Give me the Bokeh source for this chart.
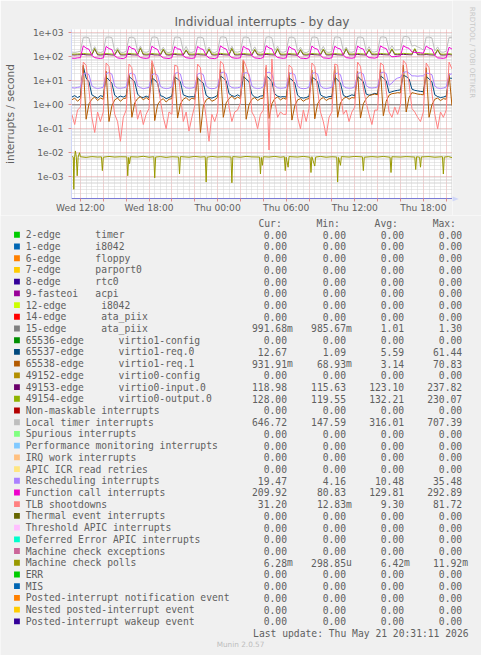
import numpy as np
from bokeh.plotting import figure
from bokeh.layouts import column, row
from bokeh.models import Range1d, FixedTicker, CustomJSTickFormatter
from bokeh.core.properties import value
from bokeh.embed import file_html
from bokeh.resources import INLINE

TITLE = "Individual interrupts - by day"
Y_LABEL = "interrupts / second"
LAST_UPDATE = "Last update: Thu May 21 20:31:11 2026"
FOOTER = "Munin 2.0.57"
SIDE_TEXT = "RRDTOOL / TOBI OETIKER"

x_tick_hours = [12, 18, 24, 30, 36, 42]
x_tick_labels = ["Wed 12:00", "Wed 18:00", "Thu 00:00", "Thu 06:00", "Thu 12:00", "Thu 18:00"]
y_ticks = [1e-3, 1e-2, 1e-1, 1e0, 1e1, 1e2, 1e3]
y_tick_labels = ["1e-03", "1e-02", "1e-01", "1e+00", "1e+01", "1e+02", "1e+03"]

# sample times in hours since Wed 00:00, every 15 minutes, Wed 11:15 .. Thu 20:30
t15 = 11.25 + 0.25 * np.arange(134)

# Local timer interrupts
loc = [158, 152, 160,
       170, 640, 665, 610, 172, 265, 158, 150,
       165, 655, 670, 630, 168, 240, 155, 152,
       168, 630, 660, 600, 170, 280, 160, 154,
       166, 645, 675, 620, 175, 250, 158, 150,
       170, 650, 668, 615, 170, 270, 155, 153,
       168, 640, 660, 605, 168, 255, 158, 150,
       172, 660, 680, 625, 175, 275, 160, 156,
       170, 650, 670, 610, 172, 260, 158, 152,
       168, 655, 690, 620, 178, 280, 160, 155,
       170, 640, 665, 600, 170, 250, 157, 150,
       168, 650, 670, 615, 172, 270, 160, 152,
       170, 660, 675, 620, 175, 255, 158, 155,
       170, 650, 672, 610, 172, 265, 160, 158,
       175, 660, 680, 625, 185, 290, 190, 195,
       200, 680, 707, 640, 280, 300, 260, 230,
       190, 655, 670, 610, 175, 260, 160, 155,
       170, 640, 647]

# Function call interrupts
cal = [88, 86, 90,
       92, 285, 230, 205, 115, 92, 88, 85,
       90, 270, 220, 200, 110, 90, 86, 84,
       95, 280, 225, 210, 120, 93, 88, 86,
       90, 275, 230, 200, 112, 90, 87, 85,
       92, 265, 215, 205, 110, 91, 88, 86,
       90, 270, 220, 200, 115, 89, 86, 84,
       93, 285, 235, 210, 118, 92, 88, 87,
       91, 275, 225, 205, 112, 90, 87, 85,
       94, 290, 235, 215, 120, 93, 89, 86,
       90, 270, 220, 200, 110, 88, 86, 84,
       92, 280, 225, 205, 115, 90, 88, 86,
       91, 275, 230, 210, 118, 92, 89, 87,
       92, 280, 230, 210, 115, 92, 90, 88,
       95, 285, 240, 220, 125, 100, 102, 105,
       110, 292, 245, 225, 160, 152, 150, 148,
       140, 280, 230, 210, 115, 90, 88, 86,
       92, 250, 210]

# 49153-edge virtio0-input.0
vin0 = [120, 119, 121,
        122, 125, 121, 120, 119, 215, 121, 118,
        121, 124, 122, 119, 118, 190, 120, 119,
        120, 126, 121, 120, 118, 237, 122, 119,
        121, 124, 120, 119, 117, 200, 121, 118,
        122, 125, 121, 120, 119, 185, 120, 119,
        120, 123, 121, 119, 118, 205, 121, 118,
        121, 126, 122, 120, 119, 220, 120, 119,
        122, 124, 121, 119, 118, 195, 121, 118,
        121, 125, 122, 120, 119, 210, 120, 119,
        120, 124, 121, 119, 117, 190, 121, 118,
        121, 125, 122, 120, 118, 200, 120, 119,
        122, 124, 121, 119, 118, 215, 121, 120,
        121, 125, 122, 120, 119, 195, 122, 121,
        122, 126, 123, 121, 120, 205, 123, 122,
        123, 127, 124, 122, 121, 210, 122, 121,
        121, 124, 121, 119, 118, 190, 120, 118,
        120, 123, 119]

# 49154-edge virtio0-output.0
vout0 = [130, 129, 131,
         132, 138, 133, 131, 129, 225, 131, 128,
         131, 136, 132, 130, 128, 200, 130, 129,
         130, 139, 133, 131, 129, 230, 132, 129,
         131, 137, 132, 130, 128, 210, 131, 128,
         132, 136, 131, 130, 129, 195, 130, 129,
         130, 135, 132, 130, 128, 215, 131, 128,
         131, 139, 133, 131, 129, 225, 130, 129,
         132, 137, 132, 130, 128, 205, 131, 128,
         131, 138, 133, 131, 129, 220, 130, 129,
         130, 136, 132, 130, 128, 200, 131, 128,
         131, 137, 133, 131, 129, 210, 130, 129,
         132, 136, 132, 130, 128, 220, 131, 130,
         131, 137, 133, 131, 129, 205, 132, 131,
         132, 138, 134, 132, 130, 215, 133, 132,
         133, 139, 135, 133, 131, 220, 132, 131,
         131, 136, 132, 130, 128, 200, 130, 128,
         130, 134, 128]

# Rescheduling interrupts
res = [5.2, 5.0, 5.3,
       5.6, 19, 21, 18, 6.2, 5.1, 4.8, 5.0,
       5.4, 20, 22, 19, 6.0, 5.0, 4.9, 5.1,
       5.5, 19, 21, 18, 6.1, 5.2, 4.7, 5.0,
       5.3, 18, 20, 17, 5.8, 5.0, 4.8, 4.9,
       5.6, 20, 22, 19, 6.3, 5.1, 4.9, 5.0,
       5.4, 19, 21, 18, 6.0, 4.9, 4.7, 4.8,
       5.7, 21, 23, 20, 6.4, 5.2, 5.0, 5.1,
       5.5, 20, 22, 19, 6.1, 5.0, 4.8, 4.9,
       5.6, 21, 23, 19, 6.2, 5.1, 4.9, 5.0,
       5.3, 19, 21, 18, 5.9, 4.9, 4.7, 4.8,
       5.5, 20, 22, 19, 6.1, 5.0, 4.8, 5.0,
       5.4, 19, 21, 18, 6.0, 5.1, 4.9, 5.0,
       5.6, 20, 22, 19, 6.3, 5.2, 5.0, 5.2,
       5.5, 21, 23, 20, 6.5, 8.0, 11, 13,
       14, 22, 24, 21, 16, 16, 15.5, 16,
       16, 21, 20, 18, 6.0, 5.0, 4.8, 5.0,
       5.5, 18, 19.5]

# 65537-edge virtio1-req.0
req0 = [2.1, 2.4, 2.0,
        2.3, 40, 13, 9, 2.6, 2.2, 1.9, 2.4,
        2.2, 14, 11, 8, 2.5, 2.0, 2.3, 2.1,
        2.4, 15, 12, 9, 2.8, 2.1, 2.0, 2.3,
        2.0, 13, 11, 8, 2.4, 2.2, 1.8, 2.0,
        2.3, 14, 12, 9, 2.6, 2.3, 2.1, 2.2,
        2.1, 13, 10, 8, 2.5, 2.0, 1.9, 2.1,
        2.5, 16, 13, 10, 2.9, 2.4, 2.2, 2.6,
        2.2, 15, 12, 9, 2.7, 2.1, 2.0, 2.3,
        2.4, 16, 13, 9, 2.8, 2.3, 2.1, 2.2,
        2.1, 13, 11, 8, 2.5, 2.0, 1.9, 2.0,
        2.3, 14, 12, 9, 2.6, 2.2, 2.0, 2.2,
        2.2, 14, 11, 8, 2.5, 2.1, 2.3, 2.6,
        2.4, 15, 12, 9, 2.8, 2.5, 2.7, 3.0,
        2.8, 16, 13, 10, 3.2, 3.5, 3.8, 4.0,
        4.2, 17, 15, 12, 4.5, 4.0, 3.8, 3.6,
        3.5, 15, 12, 9, 2.6, 2.2, 2.0, 2.1,
        2.3, 13, 12.67]

# 65538-edge virtio1-req.1
req1 = [1.6, 1.9, 1.4,
        1.8, 45, 0.25, 1.1, 1.7, 2.1, 1.5, 1.9,
        1.7, 25, 0.2, 0.9, 1.6, 1.9, 1.4, 1.8,
        1.9, 18, 0.3, 1.2, 1.8, 2.2, 1.6, 2.0,
        1.6, 55, 0.22, 1.0, 1.5, 1.8, 1.3, 1.7,
        1.8, 20, 0.28, 1.1, 1.7, 2.0, 1.5, 1.9,
        1.7, 15, 0.07, 0.9, 1.6, 1.9, 1.4, 1.6,
        2.0, 30, 0.3, 1.2, 1.8, 2.3, 1.7, 2.1,
        1.8, 70.83, 0.25, 1.0, 1.7, 2.0, 1.5, 1.8,
        1.9, 35, 0.27, 1.1, 1.8, 2.1, 1.6, 1.9,
        1.7, 22, 0.23, 0.9, 1.6, 1.8, 1.4, 1.7,
        1.8, 28, 0.26, 1.1, 1.7, 2.0, 1.5, 1.8,
        1.8, 40, 0.3, 1.2, 1.8, 2.1, 1.7, 2.0,
        1.9, 25, 0.28, 1.1, 1.8, 2.4, 2.6, 2.8,
        2.6, 30, 0.35, 1.4, 2.5, 2.9, 3.0, 3.2,
        3.1, 45, 0.5, 2.0, 3.2, 3.0, 2.8, 2.7,
        2.6, 35, 0.3, 1.0, 1.7, 1.9, 1.5, 1.8,
        1.7, 20, 0.93]

# TLB shootdowns
tlb = [0.4, 0.15, 0.6,
       0.8, 60, 45, 4, 0.3, 0.07, 0.5, 0.2,
       0.5, 55, 40, 3, 0.4, 0.2, 0.03, 0.3,
       0.6, 50, 35, 2, 0.25, 0.6, 0.15, 0.4,
       0.7, 70, 30, 8, 1.5, 0.3, 0.1, 0.5,
       0.4, 45, 40, 3, 0.2, 0.5, 0.08, 0.3,
       0.9, 50, 35, 2, 0.3, 0.03, 0.4, 0.2,
       0.5, 65, 50, 6, 0.8, 0.2, 0.5, 0.6,
       1.2, 75, 40, 15, 0.5, 0.3, 0.1, 0.4,
       0.6, 45, 0.013, 81.72, 1.5, 0.3, 0.5, 0.4,
       0.4, 45, 35, 3, 0.3, 0.1, 0.6, 0.2,
       0.7, 55, 40, 4, 0.5, 0.2, 0.05, 0.3,
       0.5, 50, 45, 3, 0.4, 0.6, 0.2, 0.5,
       0.8, 60, 40, 5, 1.2, 0.4, 0.15, 0.6,
       0.6, 55, 45, 4, 0.5, 0.3, 0.8, 0.4,
       1.0, 70, 50, 8, 0.7, 0.5, 0.3, 0.2,
       0.5, 55, 35, 3, 0.4, 0.1, 0.5, 0.3,
       0.6, 60, 31.2]

# 15-edge ata_piix
t_ata = [11.25, 14.0, 17.0, 20.0, 23.0, 26.0, 29.0, 32.0, 35.0, 38.0, 41.0, 44.5]
ata = [1.0, 1.01, 0.99, 1.02, 1.0, 1.03, 0.99, 1.0, 1.02, 1.01, 1.0, 0.99]

# Machine check polls
t_mcp = [11.25, 11.38, 11.42, 11.48, 11.56, 11.64, 11.72, 11.80, 11.92, 12.0, 12.5, 13.0, 13.5,
         13.84, 13.92, 14.0, 14.5, 15.0, 15.5, 16.06, 16.14, 16.22, 16.3, 16.38, 17.0, 17.5,
         18.0, 18.42, 18.5, 18.58, 19.0, 19.5, 20.0, 20.59, 20.67, 20.75, 21.5, 22.0, 22.5,
         22.92, 23.0, 23.08, 23.5, 24.0, 24.5, 25.17, 25.25, 25.33, 26.0, 26.5, 27.0, 27.67,
         27.75, 27.83, 27.92, 28.0, 28.5, 29.0, 29.5, 29.84, 29.92, 30.0, 30.17, 30.25, 31.0,
         31.5, 32.09, 32.17, 32.25, 32.5, 32.58, 33.0, 33.5, 34.0, 34.42, 34.5, 34.58, 34.75,
         34.83, 35.5, 36.0, 36.67, 36.75, 36.83, 37.5, 38.0, 38.5, 39.09, 39.17, 39.25, 40.0,
         40.5, 41.25, 41.33, 41.41, 41.67, 41.75, 41.83, 42.5, 43.0, 43.67, 43.75, 43.83,
         44.2, 44.5]
mcp = [7.0e-3, 6.5e-3, 3.0e-4, 6.0e-3, 1.19e-2, 6.8e-3, 1.1e-3, 6.6e-3, 1.0e-2, 6.8e-3, 6.4e-3, 6.9e-3, 6.6e-3,
       6.7e-3, 1.8e-3, 6.5e-3, 7.0e-3, 6.6e-3, 6.8e-3, 6.7e-3, 1.1e-3, 6.4e-3, 3.5e-3, 6.8e-3, 6.6e-3, 7.1e-3,
       6.5e-3, 6.8e-3, 9.0e-4, 6.6e-3, 6.9e-3, 6.4e-3, 6.8e-3, 6.6e-3, 1.3e-3, 6.9e-3, 6.5e-3, 7.0e-3, 6.6e-3,
       6.8e-3, 6.0e-4, 6.5e-3, 7.0e-3, 6.6e-3, 6.8e-3, 6.6e-3, 5.6e-4, 6.9e-3, 6.5e-3, 7.0e-3, 6.7e-3, 6.6e-3,
       1.3e-3, 6.4e-3, 3.0e-3, 6.8e-3, 6.6e-3, 7.0e-3, 6.5e-3, 6.8e-3, 1.8e-3, 6.6e-3, 2.5e-3, 6.9e-3, 6.6e-3,
       7.0e-3, 6.5e-3, 1.5e-3, 6.8e-3, 2.8e-3, 6.6e-3, 7.0e-3, 6.5e-3, 6.8e-3, 6.6e-3, 6.0e-4, 6.4e-3, 3.0e-3,
       6.9e-3, 6.6e-3, 7.0e-3, 6.7e-3, 1.8e-3, 6.5e-3, 6.9e-3, 6.6e-3, 7.0e-3, 6.5e-3, 1.5e-3, 6.8e-3, 6.6e-3,
       6.9e-3, 6.6e-3, 2.0e-3, 6.8e-3, 6.5e-3, 2.5e-3, 6.7e-3, 6.9e-3, 6.5e-3, 6.8e-3, 1.3e-3, 6.6e-3,
       6.9e-3, 6.28e-3]

# Legend
legend_names = ["2-edge", "1-edge", "6-edge", "7-edge", "8-edge", "9-fasteoi", "12-edge", "14-edge",
                "15-edge", "65536-edge", "65537-edge", "65538-edge", "49152-edge", "49153-edge",
                "49154-edge", "Non-maskable interrupts", "Local timer interrupts", "Spurious interrupts",
                "Performance monitoring interrupts", "IRQ work interrupts", "APIC ICR read retries",
                "Rescheduling interrupts", "Function call interrupts", "TLB shootdowns",
                "Thermal event interrupts", "Threshold APIC interrupts", "Deferred Error APIC interrupts",
                "Machine check exceptions", "Machine check polls", "ERR", "MIS",
                "Posted-interrupt notification event", "Nested posted-interrupt event",
                "Posted-interrupt wakeup event"]
legend_devices = ["timer", "i8042", "floppy", "parport0", "rtc0", "acpi", "i8042", "ata_piix", "ata_piix",
                  "virtio1-config", "virtio1-req.0", "virtio1-req.1", "virtio0-config",
                  "virtio0-input.0", "virtio0-output.0"]
legend_colors = ["#00cc00", "#0066b3", "#ff8000", "#ffcc00", "#330099", "#990099", "#ccff00", "#ff0000",
                 "#808080", "#008f00", "#00487d", "#b35a00", "#b38f00", "#6b006b", "#8fb300", "#b30000",
                 "#bebebe", "#80ff80", "#80c9ff", "#ffc080", "#ffe680", "#aa80ff", "#ee00cc", "#ff8080",
                 "#666600", "#ffbfff", "#00ffcc", "#cc6699", "#999900", "#00cc00", "#0066b3", "#ff8000",
                 "#ffcc00", "#330099"]
stat_cur = [0, 0, 0, 0, 0, 0, 0, 0, 0.99168, 0, 12.67, 0.93191, 0, 118.98, 128.00, 0, 646.72, 0, 0, 0, 0,
            19.47, 209.92, 31.20, 0, 0, 0, 0, 0.00628, 0, 0, 0, 0, 0]
stat_min = [0, 0, 0, 0, 0, 0, 0, 0, 0.98567, 0, 1.09, 0.06893, 0, 115.63, 119.55, 0, 147.59, 0, 0, 0, 0,
            4.16, 80.83, 0.01283, 0, 0, 0, 0, 0.00029885, 0, 0, 0, 0, 0]
stat_avg = [0, 0, 0, 0, 0, 0, 0, 0, 1.01, 0, 5.59, 3.14, 0, 123.10, 132.21, 0, 316.01, 0, 0, 0, 0,
            10.48, 129.81, 9.30, 0, 0, 0, 0, 0.00642, 0, 0, 0, 0, 0]
stat_max = [0, 0, 0, 0, 0, 0, 0, 0, 1.30, 0, 61.44, 70.83, 0, 237.82, 230.07, 0, 707.39, 0, 0, 0, 0,
            35.48, 292.89, 81.72, 0, 0, 0, 0, 0.01192, 0, 0, 0, 0, 0]
stat_headers = ["Cur:", "Min:", "Avg:", "Max:"]

# ---------------------------------------------------------------- layout / styling
W, H = 481, 655
SX, SY = W / 497.0, H / 671.0          # reference image -> canvas scale
BG = "#f0f0f0"
FONT_C = "#606060"
SANS = "DejaVu Sans"
MONO = "DejaVu Sans Mono"
MONO_PX = "%.2fpx" % (10 * SX)

TOP_H = 215                            # height of the chart part
FL, FT, FW, FH = 64, 29, 388, 170     # chart frame in canvas px
SIDE_W = W - FL - FW                  # strip right of the frame

X0, X1 = 11.22, 44.55
Y0, Y1 = 1.24e-4, 1373.0


def no_align(fig):
    if "frame_align" in fig.properties():
        fig.frame_align = False


p = figure(width=FL + FW, height=TOP_H, x_range=Range1d(X0, X1), y_range=Range1d(Y0, Y1),
           y_axis_type="log", output_backend="svg", toolbar_location=None,
           min_border_left=FL, min_border_right=0, min_border_top=FT,
           min_border_bottom=TOP_H - FT - FH,
           background_fill_color="#ffffff", border_fill_color=BG, outline_line_color=None)
no_align(p)

p.title.text = TITLE
p.title.text_font = SANS
p.title.text_font_size = "%.1fpx" % (12.5 * SX)
p.title.text_font_style = "normal"
p.title.text_color = FONT_C
p.title.align = "center"
p.title.standoff = 2

major_x = [h for h in range(12, 45, 2)]
minor_x = [h / 2 for h in range(23, 90) if h % 4 != 0]
p.xaxis.ticker = FixedTicker(ticks=major_x, minor_ticks=minor_x)
p.xaxis.formatter = CustomJSTickFormatter(args=dict(hrs=x_tick_hours, lbls=x_tick_labels),
    code="const i = hrs.indexOf(tick); return i >= 0 ? lbls[i] : '';")
minor_y = [m * 10.0 ** e for e in range(-4, 4) for m in range(2, 10)]
p.yaxis.ticker = FixedTicker(ticks=y_ticks, minor_ticks=minor_y)
p.yaxis.formatter = CustomJSTickFormatter(args=dict(tv=y_ticks, tl=y_tick_labels), code="""
let best = 0, d = 1e9;
for (let i = 0; i < tv.length; i++) {
  const dd = Math.abs(Math.log10(tv[i]) - Math.log10(tick));
  if (dd < d) { d = dd; best = i; }
}
return tl[best];""")

for ax in (p.xaxis[0], p.yaxis[0]):
    ax.major_label_text_font = SANS
    ax.major_label_text_font_size = "%.1fpx" % (9.4 * SX)
    ax.major_label_text_color = FONT_C
    ax.major_tick_line_color = "#e08c8c"
    ax.major_tick_in = 0
    ax.major_tick_out = 3
    ax.minor_tick_line_color = None
p.xaxis.axis_line_color = "#7b7bd6"
p.yaxis.axis_line_color = "#cfd6f8"
p.xaxis.major_label_standoff = 0
p.yaxis.major_label_standoff = 4
p.yaxis.axis_label = Y_LABEL
p.yaxis.axis_label_text_font = SANS
p.yaxis.axis_label_text_font_size = "%.1fpx" % (11 * SX)
p.yaxis.axis_label_text_font_style = "normal"
p.yaxis.axis_label_text_color = FONT_C
p.yaxis.axis_label_standoff = 14

for g in (p.xgrid[0], p.ygrid[0]):
    g.grid_line_color = "#e2a0a0"
    g.grid_line_dash = "1 1"
    g.minor_grid_line_color = "#d2d2d2"
    g.minor_grid_line_dash = "1 1"

series = [
    (t_ata, ata, legend_colors[8]),
    (t15, req0, legend_colors[10]),
    (t15, req1, legend_colors[11]),
    (t15, vin0, legend_colors[13]),
    (t15, vout0, legend_colors[14]),
    (t15, loc, legend_colors[16]),
    (t15, res, legend_colors[21]),
    (t15, cal, legend_colors[22]),
    (t15, tlb, legend_colors[23]),
    (t_mcp, mcp, legend_colors[28]),
]
for xs, ys, c in series:
    assert len(xs) == len(ys)
    p.line(x=list(xs), y=list(ys), line_color=c, line_width=1)

# ---------------------------------------------------------------- strip right of the chart
# coordinates in reference-image pixels (x right, y down)
side = figure(width=SIDE_W, height=TOP_H,
              x_range=Range1d((FL + FW) / SX, W / SX), y_range=Range1d(TOP_H / SY, 0),
              output_backend="svg", toolbar_location=None, x_axis_location=None, y_axis_location=None,
              min_border=0, border_fill_color=BG, background_fill_color=BG, outline_line_color=None)
no_align(side)
side.xgrid.visible = False
side.ygrid.visible = False
side.patch(x=[466.7, 466.7, 473.5], y=[200.6, 206.0, 203.3], fill_color="#cfd6f8", line_color=None)
side.text(x=[487.5], y=[53.3], text=[SIDE_TEXT], angle=-np.pi / 2, text_font=value(SANS),
          text_font_size="%.1fpx" % (7.3 * SX), text_color="#c8c8c8",
          text_align="center", text_baseline="middle")

# ---------------------------------------------------------------- legend (below chart)
leg = figure(width=W, height=H - TOP_H, x_range=Range1d(0, W / SX), y_range=Range1d(H / SY, TOP_H / SY),
             output_backend="svg", toolbar_location=None, x_axis_location=None, y_axis_location=None,
             min_border=0, border_fill_color=BG, background_fill_color=BG, outline_line_color=None)
no_align(leg)
leg.xgrid.visible = False
leg.ygrid.visible = False

n = len(legend_names)
row_y = [240 + 12 * i for i in range(n)]
CW = 6.0
leg.rect(x=[17] * n, y=row_y, width=6, height=6, fill_color=legend_colors, line_color=None)


def add_texts(xs, ys, texts, align="left", font=MONO, size=MONO_PX, color=FONT_C):
    leg.text(x=list(xs), y=list(ys), text=list(texts), text_font=value(font), text_font_size=size,
             text_color=color, text_baseline="middle", text_align=align)


add_texts([26] * n, row_y, legend_names)
dev_cols = [12, 12, 12, 12, 12, 12, 13, 13, 13, 16, 16, 16, 16, 16, 16]
add_texts([26 + CW * c for c in dev_cols], row_y[:len(legend_devices)], legend_devices)


def fmt(v):
    a = abs(v)
    if a == 0:
        return "0.00", ""
    if a >= 1:
        return "%.2f" % v, ""
    if a >= 1e-3:
        return "%.2f" % (v * 1e3), "m"
    return "%.2f" % (v * 1e6), "u"


col_right = [296, 357, 417, 477]
for stats, xr in zip([stat_cur, stat_min, stat_avg, stat_max], col_right):
    nums, sfx = zip(*[fmt(v) for v in stats])
    add_texts([xr] * n, row_y, nums, align="right")
    idx = [i for i in range(n) if sfx[i]]
    add_texts([xr] * len(idx), [row_y[i] for i in idx], [sfx[i] for i in idx])

add_texts([266.5, 326.5, 386.5, 446.5], [228] * 4, stat_headers)
add_texts([261], [648], [LAST_UPDATE])
add_texts([248], [660], [FOOTER], align="center", font=SANS, size="%.1fpx" % (7.5 * SX), color="#bdbdbd")

layout = column(row(p, side, spacing=0), leg, spacing=0)
open("out.html", "w").write(file_html(layout, INLINE))
